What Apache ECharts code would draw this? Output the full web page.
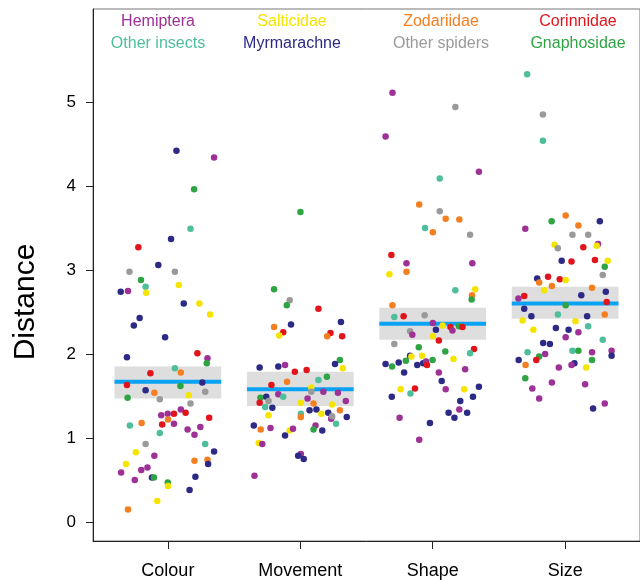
<!DOCTYPE html>
<html>
<head>
<meta charset="utf-8">
<script src="https://cdn.jsdelivr.net/npm/echarts@6/dist/echarts.min.js"></script>
<style>
html,body{margin:0;padding:0;background:#fff;}
#chart{width:640px;height:580px;}
</style>
</head>
<body>
<div id="chart"></div>
<script>
// ---- data ----
const categories = ['Colour', 'Movement', 'Shape', 'Size'];
const groups = ['Hemiptera', 'Salticidae', 'Zodariidae', 'Corinnidae',
                'Other insects', 'Myrmarachne', 'Other spiders', 'Gnaphosidae'];
const groupColors = ['#9E3196', '#F5E400', '#F47F20', '#E2141B',
                     '#4FBE9C', '#2C2A85', '#9A9A9A', '#2EA443'];
const yTicks = [0, 1, 2, 3, 4, 5];
const means = [1.67, 1.58, 2.36, 2.60];
const ciLow = [1.47, 1.38, 2.17, 2.42];
const ciHigh = [1.85, 1.79, 2.55, 2.80];

// points: [jitter (category units), distance, group index]
const colourPts = [
 [0.065,4.42,5],[0.349,4.34,0],[0.198,3.96,7],[0.171,3.49,4],[0.024,3.37,5],[-0.223,3.27,3],
 [-0.072,3.06,5],[-0.290,2.98,6],[0.053,2.98,6],[-0.203,2.88,7],[-0.168,2.80,4],[0.083,2.82,1],
 [-0.356,2.74,5],[-0.301,2.75,0],[-0.164,2.73,1],[0.120,2.60,5],[0.238,2.60,1],[0.319,2.47,1],
 [-0.213,2.43,5],[-0.257,2.34,5],[-0.021,2.20,5],[-0.309,1.96,5],[0.223,2.01,3],[0.299,1.95,0],
 [0.294,1.89,7],[0.053,1.83,4],[0.098,1.78,2],[-0.132,1.77,3],[-0.309,1.63,3],[0.260,1.66,5],
 [-0.168,1.57,5],[-0.102,1.54,2],[0.095,1.62,7],[0.282,1.55,6],[-0.304,1.48,7],[0.157,1.51,1],
 [-0.061,1.46,6],[0.171,1.41,6],[0.098,1.34,0],[0.134,1.30,3],[0.046,1.29,3],[-0.001,1.29,0],
 [-0.050,1.27,0],[0.001,1.22,2],[0.312,1.24,3],[-0.287,1.15,4],[-0.198,1.18,2],[-0.043,1.16,3],
 [0.046,1.17,0],[0.149,1.10,0],[0.245,1.13,0],[0.201,1.04,0],[-0.061,1.06,4],[-0.168,0.93,6],
 [0.282,0.93,4],[0.349,0.84,5],[-0.242,0.83,1],[-0.102,0.79,0],[0.201,0.73,2],[0.299,0.74,2],
 [0.304,0.69,5],[-0.316,0.69,1],[-0.353,0.59,0],[-0.201,0.62,0],[-0.154,0.65,0],[-0.120,0.53,5],
 [-0.105,0.53,7],[-0.250,0.50,0],[0.208,0.54,5],[-0.001,0.47,7],[0.001,0.43,1],[0.164,0.38,5],
 [-0.080,0.25,1],[-0.301,0.15,2]
];
const movementPts = [
 [0.001,3.69,7],[-0.198,2.77,7],[-0.080,2.64,6],[-0.102,2.58,7],[0.137,2.54,3],[-0.070,2.35,5],
 [0.307,2.38,5],[-0.198,2.32,2],[-0.129,2.26,3],[-0.159,2.22,1],[0.228,2.25,3],[0.203,2.21,2],
 [0.316,2.21,3],[0.299,1.93,7],[0.262,1.88,5],[0.321,1.83,1],[-0.307,1.84,5],[-0.166,1.85,5],
 [-0.115,1.87,0],[-0.041,1.79,3],[0.048,1.81,3],[0.201,1.73,7],[0.137,1.69,4],[-0.100,1.67,2],
 [-0.218,1.63,3],[0.083,1.60,1],[0.083,1.55,6],[0.174,1.55,0],[0.284,1.54,0],[-0.166,1.52,0],
 [-0.129,1.49,4],[-0.301,1.48,7],[-0.257,1.49,5],[-0.240,1.44,6],[-0.307,1.42,3],[0.055,1.47,0],
 [0.344,1.44,0],[-0.265,1.37,4],[-0.211,1.36,5],[0.004,1.42,1],[0.100,1.41,2],[0.240,1.40,1],
 [0.070,1.33,5],[0.122,1.34,5],[0.211,1.30,5],[0.299,1.33,2],[0.159,1.29,1],[0.004,1.29,4],
 [0.004,1.25,2],[-0.240,1.27,1],[0.233,1.23,0],[0.240,1.26,6],[0.351,1.25,5],[0.270,1.17,4],
 [-0.351,1.15,5],[-0.299,1.10,2],[-0.225,1.12,0],[0.115,1.15,0],[0.100,1.10,7],[0.166,1.09,5],
 [-0.080,1.09,1],[-0.055,1.11,0],[-0.115,1.03,5],[-0.314,0.94,1],[-0.287,0.93,0],[0.004,0.81,0],
 [-0.016,0.79,5],[0.026,0.75,5],[-0.346,0.55,0]
];
const shapePts = [
 [-0.304,5.11,0],[0.171,4.94,6],[-0.356,4.59,0],[0.349,4.17,0],[0.053,4.09,4],[-0.102,3.78,2],
 [0.053,3.70,6],[0.098,3.61,2],[0.201,3.60,2],[-0.058,3.50,4],[0.001,3.45,2],[0.282,3.42,6],
 [-0.312,3.18,3],[-0.198,3.08,0],[0.299,3.08,0],[-0.327,2.95,1],[-0.198,2.98,2],[0.171,2.76,4],
 [0.321,2.77,1],[0.297,2.70,2],[0.294,2.65,7],[-0.304,2.58,2],[-0.290,2.44,4],[-0.220,2.45,3],
 [-0.061,2.46,6],[0.001,2.37,0],[0.075,2.34,1],[0.134,2.32,3],[0.198,2.33,7],[0.225,2.32,3],
 [0.024,2.29,5],[0.149,2.28,0],[-0.171,2.27,6],[-0.154,2.23,0],[0.001,2.21,1],[0.046,2.16,3],
 [-0.290,2.12,6],[-0.105,2.08,7],[0.312,2.06,3],[0.095,2.03,7],[0.282,2.01,4],[-0.171,1.98,5],
 [-0.161,1.97,1],[-0.080,1.98,1],[0.157,1.94,1],[-0.356,1.88,5],[-0.257,1.90,5],[-0.203,1.92,7],
 [-0.307,1.85,7],[-0.117,1.87,5],[-0.072,1.89,5],[-0.050,1.91,0],[-0.001,1.93,7],[-0.043,1.87,3],
 [-0.216,1.78,5],[0.046,1.78,0],[0.245,1.82,0],[0.068,1.68,5],[-0.242,1.58,1],[-0.134,1.59,3],
 [0.098,1.58,0],[0.238,1.58,1],[0.349,1.61,5],[-0.309,1.49,5],[-0.168,1.53,4],[0.304,1.49,5],
 [0.208,1.44,5],[0.201,1.34,0],[0.120,1.30,5],[0.260,1.30,5],[0.164,1.24,5],[-0.250,1.24,0],
 [-0.021,1.18,5],[-0.102,0.98,0]
];
const sizePts = [
 [-0.287,5.33,4],[-0.168,4.85,6],[-0.168,4.54,4],[0.004,3.65,2],[-0.102,3.58,7],[0.262,3.58,5],
 [0.100,3.53,2],[-0.301,3.49,0],[0.055,3.42,6],[0.174,3.42,6],[-0.080,3.30,1],[-0.055,3.26,6],
 [0.137,3.27,3],[0.248,3.31,0],[0.238,3.29,1],[-0.026,3.11,5],[0.048,3.10,3],[0.225,3.12,3],
 [0.321,3.11,1],[0.299,3.04,7],[0.284,2.94,6],[-0.211,2.90,5],[-0.129,2.92,3],[-0.041,2.89,3],
 [0.004,2.88,1],[-0.196,2.85,2],[-0.100,2.81,2],[-0.159,2.76,1],[0.203,2.79,2],[0.307,2.74,5],
 [0.122,2.70,5],[-0.309,2.69,3],[-0.353,2.66,0],[0.314,2.62,3],[0.004,2.58,7],[-0.309,2.54,5],
 [-0.255,2.45,5],[-0.055,2.47,4],[0.166,2.45,5],[0.299,2.47,2],[-0.321,2.40,1],[0.078,2.39,1],
 [0.174,2.33,4],[-0.240,2.29,1],[-0.070,2.31,5],[0.026,2.29,5],[0.100,2.26,0],[0.004,2.20,0],
 [0.284,2.17,4],[-0.166,2.13,5],[-0.115,2.12,5],[-0.284,2.02,4],[-0.151,2.00,0],[-0.196,1.97,7],
 [0.055,2.04,4],[0.100,2.04,7],[0.203,2.02,0],[0.351,2.04,0],[0.351,1.98,5],[-0.351,1.93,5],
 [-0.218,1.93,3],[0.203,1.93,7],[-0.299,1.87,2],[0.070,1.89,5],[0.048,1.87,0],[-0.048,1.84,0],
 [0.159,1.84,1],[-0.301,1.71,7],[-0.100,1.66,0],[0.151,1.64,0],[-0.248,1.59,0],[-0.196,1.47,0],
 [0.211,1.35,5],[0.299,1.41,0]
];
const pointSets = [colourPts, movementPts, shapePts, sizePts];

// legend layout: two rows of four
const legendRows = [[0, 1, 2, 3], [4, 5, 6, 7]];

// ---- build ----
const FONT = '"Liberation Sans", Arial, sans-serif';
const scatterData = [];
pointSets.forEach((pts, ci) => {
  pts.forEach(p => scatterData.push([ci + 1 + p[0], p[1], p[2]]));
});
const summaryData = categories.map((c, i) => [i + 1, ciLow[i], ciHigh[i], means[i]]);

const legendX = [158, 292, 441, 578];
const legendY = [22, 44];
const graphics = [];
legendRows.forEach((row, r) => {
  row.forEach((g, c) => {
    graphics.push({
      type: 'text', x: legendX[c], y: legendY[r], silent: true,
      style: { text: groups[g], fill: groupColors[g], font: '16px ' + FONT,
               textAlign: 'center', textVerticalAlign: 'middle' }
    });
  });
});
graphics.push({
  type: 'text', x: 26, y: 302, rotation: Math.PI / 2, silent: true,
  style: { text: 'Distance', fill: '#000', font: '30px ' + FONT,
           textAlign: 'center', textVerticalAlign: 'middle' }
});

const HALF = 0.403;
const chart = echarts.init(document.getElementById('chart'), null, { renderer: 'canvas' });
chart.setOption({
  animation: false,
  backgroundColor: '#fff',
  grid: { left: 93, top: 9, right: -12, bottom: 39, show: true,
          borderColor: '#777', borderWidth: 1, backgroundColor: 'transparent' },
  xAxis: {
    type: 'value', min: 0.4347, max: 4.5653,
    splitLine: { show: false },
    axisLine: { show: true, onZero: false, lineStyle: { color: '#222', width: 1 } },
    axisTick: { show: true, customValues: [1, 2, 3, 4], length: 8, lineStyle: { color: '#222' } },
    axisLabel: { customValues: [1, 2, 3, 4], margin: 21, color: '#000', fontSize: 18,
                 fontFamily: FONT, formatter: v => categories[Math.round(v) - 1] || '' }
  },
  yAxis: {
    type: 'value', min: -0.226, max: 6.107,
    splitLine: { show: false },
    axisLine: { show: true, onZero: false, lineStyle: { color: '#222', width: 1 } },
    axisTick: { show: true, customValues: yTicks, length: 7, lineStyle: { color: '#222' } },
    axisLabel: { customValues: yTicks, margin: 17, color: '#000', fontSize: 17, fontFamily: FONT }
  },
  graphic: graphics,
  series: [
    {
      type: 'custom', name: 'summary', silent: true,
      data: summaryData,
      encode: { x: 0, y: [1, 2] },
      renderItem: (params, api) => {
        const x = api.value(0);
        const p1 = api.coord([x - HALF, api.value(2)]);
        const p2 = api.coord([x + HALF, api.value(1)]);
        const m1 = api.coord([x - HALF, api.value(3)]);
        const m2 = api.coord([x + HALF, api.value(3)]);
        return {
          type: 'group',
          children: [
            { type: 'rect', shape: { x: p1[0], y: p1[1], width: p2[0] - p1[0], height: p2[1] - p1[1] },
              style: { fill: '#DEDEDE' } },
            { type: 'line', shape: { x1: m1[0], y1: m1[1], x2: m2[0], y2: m2[1] },
              style: { stroke: '#0AA2F2', lineWidth: 4 } }
          ]
        };
      }
    },
    {
      type: 'scatter', name: 'points', data: scatterData,
      symbolSize: 6.5,
      itemStyle: { opacity: 1, color: p => groupColors[p.data[2]] },
      emphasis: { disabled: true }
    }
  ]
});
</script>
</body>
</html>
